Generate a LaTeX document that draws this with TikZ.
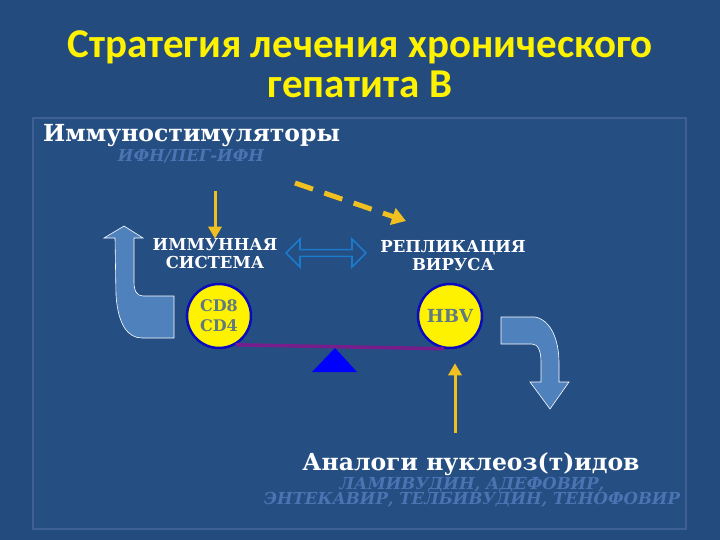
\documentclass[tikz,border=0pt]{standalone}
\usepackage{fontspec}
\setmainfont{DejaVu Serif}
\newfontfamily\titlefont{Carlito}
\usetikzlibrary{shapes.arrows,arrows.meta}
\definecolor{bgblue}{RGB}{35,75,126}
\definecolor{framebg}{RGB}{37,78,130}
\definecolor{frameline}{RGB}{62,96,146}
\definecolor{softblue}{RGB}{79,129,189}
\definecolor{drugblue}{RGB}{74,116,178}
\definecolor{arrowyellow}{RGB}{240,192,32}
\definecolor{cellgrey}{RGB}{96,122,130}
\definecolor{beampurple}{RGB}{120,30,140}
\definecolor{linkblue}{RGB}{28,122,204}
\tikzset{
  heading/.style={text=white,font=\bfseries\fontsize{23.5}{26}\selectfont,inner sep=0pt},
  druglist/.style={text=drugblue,font=\bfseries\itshape\fontsize{16.5}{15}\selectfont,align=center,inner sep=0pt},
  partlabel/.style={text=white,font=\bfseries\fontsize{16.5}{18}\selectfont,align=center,inner sep=0pt},
  cell/.style={circle,fill=yellow,draw={rgb,255:red,10;green,10;blue,190},line width=2.5pt,minimum size=64pt,inner sep=0pt,text=cellgrey,font=\bfseries\fontsize{16}{20}\selectfont,align=center},
  thinarrow/.style={draw=arrowyellow,line width=3pt,-{Triangle[length=12pt,width=13pt]}},
  bigarrow/.style={fill=softblue,draw=white,line width=0.6pt}
}
\begin{document}
\begin{tikzpicture}[x=1pt,y=-1pt]
    \useasboundingbox (0,0) rectangle (720,540);
    \fill[bgblue] (0,0) rectangle (720,540);
    \draw[frameline,fill=framebg,line width=1.5pt] (33,118) rectangle (686,529);
    % title
    \node[text=yellow,font=\titlefont\bfseries\fontsize{41}{40}\selectfont,align=center] (title) at (360,64)
        {Стратегия лечения хронического\\гепатита B};
    % immunostimulators
    \node[heading,anchor=base west] (stim) at (43,142) {Иммуностимуляторы};
    \node[druglist] (ifn) at (191,156) {ИФН/ПЕГ-ИФН};
    \node[partlabel] (immune) at (215,254) {ИММУННАЯ\\СИСТЕМА};
    \node[partlabel] (replic) at (453,256) {РЕПЛИКАЦИЯ\\ВИРУСА};
    \node[shape=double arrow,draw=linkblue,line width=1.6pt,minimum height=80pt,minimum width=28pt,
          double arrow head extend=9pt,inner sep=2pt] (link) at (326,253) {};
    \coordinate (ifnin) at (215,191);
    \coordinate (dashstart) at (295,183);
    \draw[thinarrow] (ifnin) -- (immune.north);
    \draw[thinarrow,line width=5pt,dash pattern=on 19pt off 12pt,-{Triangle[length=14pt,width=17pt]}]
        (dashstart) -- (406,221);
    % balance
    \node[cell] (cd) at (219,316) {CD8\\CD4};
    \node[cell,font=\bfseries\fontsize{18}{20}\selectfont] (hbv) at (450,316) {HBV};
    \draw[beampurple,line width=3.5pt] (cd.-60) -- (hbv.-100);
    \fill[blue] (335,348) -- (357,372) -- (312,372) -- cycle;
    % curved arrows
    \draw[bigarrow] (124,226) -- (143,238) -- (134,238) -- (134,282)
        .. controls (134,291) and (137,296) .. (143,296) -- (174,296) -- (174,338) -- (142,338)
        .. controls (128,338) and (118,325) .. (116,295) -- (115,238) -- (104,238) -- cycle;
    \draw[bigarrow] (501,317) -- (535,317) .. controls (551,320) and (559,340) .. (559,363)
        -- (559,382) -- (569,382) -- (550,409) -- (530,382) -- (541,382) -- (541,362)
        .. controls (541,351) and (538,344) .. (532,344) -- (501,344) -- cycle;
    % nucleoside analogues
    \node[heading,anchor=base] (nuc) at (471,470) {Аналоги нуклеоз(т)идов};
    \node[druglist] (drugs) at (472,492) {ЛАМИВУДИН, АДЕФОВИР,\\ЭНТЕКАВИР, ТЕЛБИВУДИН, ТЕНОФОВИР};
    \coordinate (nucout) at (455,433);
    \draw[thinarrow,shorten >=14pt] (nucout) -- (hbv.south -| nucout);
\end{tikzpicture}
\end{document}
